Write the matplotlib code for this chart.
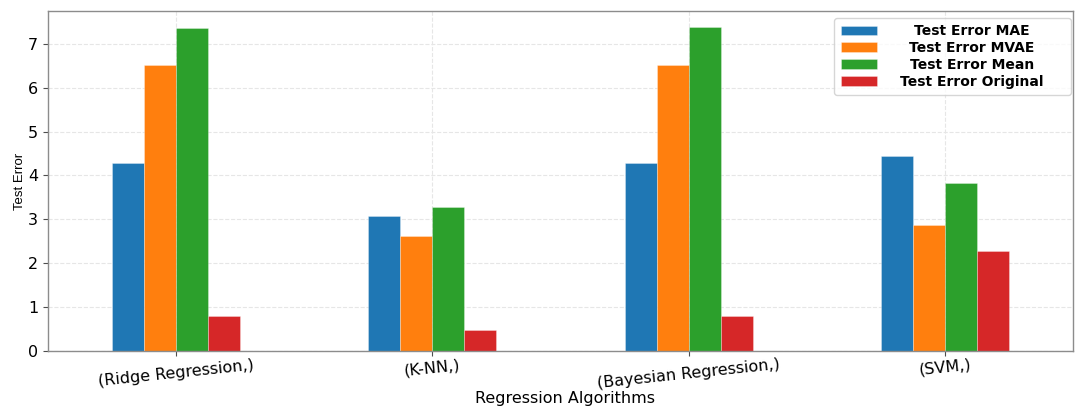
import numpy as np
import matplotlib
matplotlib.use("Agg")
import matplotlib.pyplot as plt
from matplotlib.offsetbox import VPacker, DrawingArea

# Test errors of each regression algorithm under four evaluation schemes
algorithms = ["(Ridge Regression,)", "(K-NN,)", "(Bayesian Regression,)", "(SVM,)"]
series_names = ["Test Error MAE", "Test Error MVAE", "Test Error Mean", "Test Error Original"]
err_mae = [4.29, 3.08, 4.29, 4.44]
err_mvae = [6.51, 2.61, 6.51, 2.88]
err_mean = [7.37, 3.28, 7.38, 3.84]
err_original = [0.79, 0.49, 0.79, 2.29]
colors = ["#1f77b4", "#ff7f0e", "#2ca02c", "#d62728"]

series = [err_mae, err_mvae, err_mean, err_original]

W, H, DPI = 1075, 407, 100
fig = plt.figure(figsize=(W / DPI, H / DPI), dpi=DPI)
ax = fig.add_axes([48 / W, 1 - 351 / H, (1073 - 48) / W, (351 - 11) / H])

x = np.arange(len(algorithms))
n = len(series)
group_width = 0.5
bw = group_width / n
for i, (vals, name, c) in enumerate(zip(series, series_names, colors)):
    offs = -group_width / 2 + bw * (i + 0.5)
    ax.bar(x + offs, vals, bw, color=c, label=name,
           edgecolor=(1, 1, 1, 0.35), linewidth=0.6, zorder=2)

ax.set_xlim(-0.5, len(algorithms) - 0.5)
ax.set_ylim(0, max(max(s) for s in series) * 1.05)
ax.set_xticks(x)
ax.set_xticklabels(algorithms, rotation=6, fontsize=11.5)
ax.tick_params(axis="x", pad=1.0)
ax.tick_params(axis="y", labelsize=11.5)
ax.set_xlabel("Regression Algorithms", fontsize=11.5, va="center")
ax.xaxis.set_label_coords((565 - 48) / 1025, (351 - 398) / 340)
ax.set_ylabel("Test Error", fontsize=9.5, family=["Liberation Sans", "DejaVu Sans"],
              va="center")
ax.yaxis.set_label_coords((20 - 48) / 1025, 0.5)

ax.set_axisbelow(True)
ax.grid(True, linestyle="--", color="0.9", linewidth=0.8)
for sp in ax.spines.values():
    sp.set_color("0.55")
    sp.set_linewidth(1.0)
ax.tick_params(colors="0.3", labelcolor="black")

leg = ax.legend(
    loc="upper right", bbox_to_anchor=((1071 - 48) / 1025, (351 - 18) / 340),
    borderaxespad=0, prop={"weight": "bold", "size": 10},
    handlelength=2.65, handletextpad=0.1, labelspacing=0.2, borderpad=0.45,
    framealpha=0.8, edgecolor="0.8")

# centre each legend label inside a fixed-width column
col_w_pts = 186 * 72 / DPI
for column in leg._legend_handle_box.get_children():
    for item in column.get_children():
        handle_box, text_box = item._children
        item._children = [handle_box,
                          VPacker(pad=0, sep=0, align="center",
                                  children=[text_box, DrawingArea(col_w_pts, 0)])]

fig.savefig("out.png", dpi=DPI)
